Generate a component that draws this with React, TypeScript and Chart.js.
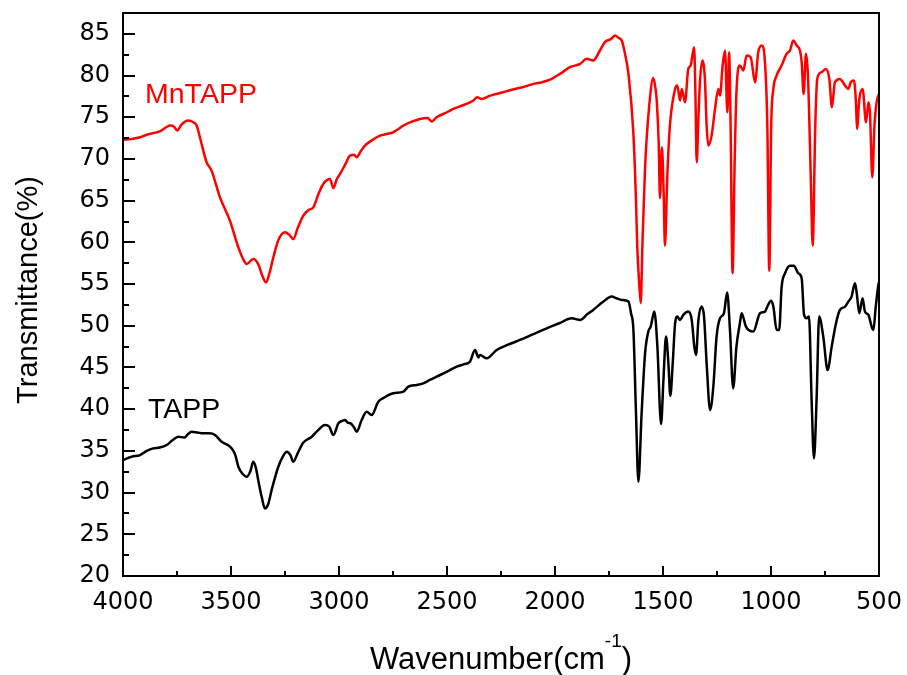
import React, { useEffect, useRef } from 'react';
import { Chart, registerables } from 'chart.js';

Chart.register(...registerables);

// ---- Axis ticks ----
const xTickValues = [4000, 3500, 3000, 2500, 2000, 1500, 1000, 500];
const yTickValues = [20, 25, 30, 35, 40, 45, 50, 55, 60, 65, 70, 75, 80, 85];

// ---- Series names ----
const seriesNames = ['MnTAPP', 'TAPP'];

// ---- MnTAPP (red) ----
const mnWavenumber = [
  4000, 3960, 3920, 3890, 3861, 3830, 3800, 3782, 3765, 3749,
  3730, 3698, 3675, 3659, 3644, 3613, 3590, 3551, 3505, 3466,
  3440, 3427, 3397, 3374, 3355, 3338, 3320, 3304, 3280, 3250,
  3230, 3212, 3190, 3165, 3140, 3119, 3095, 3073, 3042, 3026,
  3010, 2995, 2970, 2949, 2930, 2918, 2900, 2880, 2850, 2810,
  2780, 2749, 2725, 2702, 2660, 2625, 2590, 2571, 2548, 2500,
  2471, 2420, 2378, 2360, 2340, 2300, 2255, 2200, 2150, 2100,
  2060, 2023, 1977, 1931, 1884, 1853, 1823, 1792, 1769, 1740,
  1722, 1705, 1691, 1675, 1660, 1637, 1625, 1619, 1610, 1603,
  1595, 1583, 1563, 1545, 1535, 1529, 1520, 1514, 1505, 1497,
  1491, 1480, 1468, 1444, 1434, 1421, 1413, 1398, 1383, 1372,
  1356, 1350, 1344, 1336, 1329, 1318, 1306, 1298, 1290, 1275,
  1259, 1244, 1236, 1224, 1213, 1202, 1194, 1187, 1178, 1168,
  1160, 1144, 1128, 1113, 1094, 1074, 1059, 1043, 1028, 1017,
  1008, 999, 989, 974, 951, 928, 912, 897, 881, 866,
  858, 849, 838, 829, 816, 807, 795, 786, 766, 746,
  730, 718, 704, 681, 657, 642, 631, 616, 606, 602,
  591, 576, 560, 549, 542, 531, 521, 511, 500,
];
const mnTransmittance = [
  72.3, 72.4, 72.6, 72.9, 73.1, 73.3, 73.8, 74.0, 73.9, 73.4,
  74.1, 74.6, 74.4, 74.0, 72.6, 69.6, 68.6, 65.4, 62.6, 59.4,
  57.8, 57.4, 58.0, 57.4, 56.0, 55.2, 56.5, 58.2, 60.3, 61.2,
  60.9, 60.4, 61.8, 63.2, 63.9, 64.2, 65.8, 67.0, 67.6, 66.5,
  67.6, 68.2, 69.4, 70.4, 70.5, 70.2, 70.9, 71.6, 72.2, 72.8,
  73.0, 73.2, 73.6, 74.0, 74.5, 74.8, 74.9, 74.5, 75.0, 75.6,
  76.0, 76.5, 77.0, 77.4, 77.2, 77.6, 77.9, 78.3, 78.6, 79.0,
  79.2, 79.5, 80.2, 81.0, 81.4, 82.0, 81.8, 83.0, 84.0, 84.4,
  84.8, 84.5, 84.2, 82.5, 80.2, 73.0, 65.0, 59.4, 55.0, 52.7,
  60.0, 69.0, 76.6, 79.7, 78.5, 77.0, 72.0, 65.3, 71.4, 66.0,
  59.6, 68.0, 74.0, 78.4, 78.8, 77.0, 78.4, 76.8, 80.8, 81.2,
  83.4, 78.0, 69.6, 75.0, 79.2, 81.8, 79.6, 74.0, 71.6, 72.8,
  76.0, 78.4, 77.6, 81.2, 83.0, 75.6, 82.8, 74.0, 56.3, 70.0,
  78.0, 81.2, 80.6, 82.4, 82.2, 79.2, 82.8, 83.6, 81.6, 74.0,
  56.6, 74.0, 78.4, 80.0, 81.2, 82.6, 83.0, 84.2, 83.6, 83.0,
  81.6, 77.8, 82.6, 80.0, 68.0, 59.6, 74.0, 79.6, 80.4, 80.8,
  79.6, 76.2, 79.2, 79.6, 78.8, 78.4, 79.2, 79.4, 76.4, 73.6,
  77.2, 78.4, 74.4, 76.8, 75.6, 67.8, 74.0, 76.8, 77.8,
];

// ---- TAPP (black) ----
const tappWavenumber = [
  4000, 3960, 3921, 3890, 3860, 3830, 3798, 3770, 3744, 3715,
  3700, 3682, 3655, 3628, 3600, 3574, 3543, 3515, 3497, 3480,
  3466, 3445, 3427, 3410, 3397, 3385, 3374, 3358, 3343, 3328,
  3312, 3281, 3260, 3242, 3225, 3212, 3190, 3165, 3126, 3100,
  3065, 3045, 3026, 3003, 2985, 2972, 2960, 2946, 2930, 2918,
  2895, 2872, 2849, 2818, 2790, 2749, 2702, 2679, 2640, 2610,
  2580, 2548, 2500, 2455, 2420, 2394, 2370, 2355, 2347, 2316,
  2270, 2220, 2162, 2100, 2038, 1980, 1923, 1884, 1850, 1823,
  1776, 1738, 1715, 1691, 1660, 1648, 1637, 1625, 1614, 1599,
  1583, 1568, 1557, 1540, 1526, 1509, 1498, 1486, 1475, 1466,
  1455, 1444, 1434, 1421, 1406, 1383, 1367, 1355, 1347, 1336,
  1321, 1310, 1298, 1282, 1267, 1252, 1236, 1218, 1203, 1190,
  1175, 1160, 1144, 1136, 1116, 1082, 1051, 1028, 1017, 1000,
  989, 974, 962, 951, 935, 912, 894, 874, 858, 847,
  835, 824, 812, 801, 789, 777, 758, 738, 719, 699,
  681, 657, 642, 627, 611, 603, 591, 576, 565, 549,
  534, 526, 515, 503, 500,
];
const tappTransmittance = [
  33.9, 34.3, 34.5, 35.0, 35.3, 35.4, 35.7, 36.3, 36.7, 36.6,
  37.0, 37.3, 37.2, 37.1, 37.1, 36.9, 36.1, 35.7, 35.3, 34.5,
  33.1, 32.2, 31.9, 32.6, 33.7, 33.0, 31.5, 29.5, 28.1, 28.6,
  30.3, 33.1, 34.3, 34.9, 34.5, 33.7, 34.8, 36.0, 36.7, 37.4,
  38.1, 37.9, 36.9, 38.3, 38.6, 38.7, 38.4, 38.3, 37.8, 37.3,
  38.7, 39.7, 39.3, 40.9, 41.4, 41.9, 42.1, 42.7, 42.9, 43.1,
  43.5, 43.9, 44.5, 45.1, 45.4, 45.7, 47.1, 46.2, 46.5, 46.1,
  47.1, 47.7, 48.3, 49.0, 49.7, 50.3, 50.9, 50.7, 51.4, 51.9,
  52.9, 53.5, 53.3, 53.1, 52.9, 51.5, 49.5, 39.5, 31.3, 39.5,
  46.7, 49.3, 49.9, 51.7, 47.5, 38.2, 43.5, 48.7, 45.5, 41.6,
  45.5, 50.3, 51.1, 50.7, 51.3, 51.7, 50.7, 47.5, 46.5, 50.7,
  52.3, 51.1, 45.5, 39.9, 42.7, 48.7, 50.9, 51.5, 54.0, 49.5,
  42.5, 47.5, 50.3, 51.5, 49.9, 49.3, 51.5, 51.7, 52.3, 53.0,
  52.3, 49.5, 49.5, 54.6, 56.3, 57.2, 57.2, 56.3, 55.7, 51.3,
  50.9, 51.1, 41.1, 34.1, 41.1, 51.1, 48.7, 44.7, 47.5, 50.3,
  51.9, 52.3, 52.9, 53.5, 55.1, 53.9, 51.5, 53.3, 51.7, 51.3,
  49.9, 49.5, 52.3, 54.9, 55.2,
];

const decorPlugin = {
  id: 'decor',
  afterDraw(chart: any) {
    const { ctx, chartArea, scales } = chart;
    const { left, right, top, bottom } = chartArea;
    const xs = scales.x;
    const ys = scales.y;
    ctx.save();
    ctx.strokeStyle = '#000';
    ctx.lineWidth = 2;
    ctx.lineCap = 'butt';
    ctx.beginPath();
    // x ticks (inward)
    xTickValues.forEach((v) => {
      const px = Math.round(xs.getPixelForValue(v));
      ctx.moveTo(px, bottom);
      ctx.lineTo(px, bottom - 10);
    });
    for (let i = 0; i < xTickValues.length - 1; i++) {
      const m = (xTickValues[i] + xTickValues[i + 1]) / 2;
      const px = Math.round(xs.getPixelForValue(m));
      ctx.moveTo(px, bottom);
      ctx.lineTo(px, bottom - 5);
    }
    // y ticks (inward)
    yTickValues.forEach((v) => {
      const py = Math.round(ys.getPixelForValue(v));
      ctx.moveTo(left, py);
      ctx.lineTo(left + 12, py);
    });
    for (let i = 0; i < yTickValues.length - 1; i++) {
      const m = (yTickValues[i] + yTickValues[i + 1]) / 2;
      const py = Math.round(ys.getPixelForValue(m));
      ctx.moveTo(left, py);
      ctx.lineTo(left + 6, py);
    }
    ctx.stroke();
    ctx.strokeRect(left, top, right - left, bottom - top);

    // series labels
    ctx.font = '28.5px "Liberation Sans", Arial, sans-serif';
    ctx.textAlign = 'left';
    ctx.textBaseline = 'alphabetic';
    ctx.fillStyle = '#ff0000';
    ctx.fillText(seriesNames[0], xs.getPixelForValue(3898), ys.getPixelForValue(76.65));
    ctx.fillStyle = '#000000';
    ctx.fillText(seriesNames[1], xs.getPixelForValue(3884), ys.getPixelForValue(38.9));

    // y title
    ctx.save();
    ctx.translate(37, 290);
    ctx.rotate(-Math.PI / 2);
    ctx.textAlign = 'center';
    ctx.font = '29px "Liberation Sans", Arial, sans-serif';
    ctx.fillStyle = '#000';
    ctx.fillText('Transmittance(%)', 0, 0);
    ctx.restore();

    // x title with superscript
    const mainFont = '31px "Liberation Sans", Arial, sans-serif';
    const supFont = '19px "Liberation Sans", Arial, sans-serif';
    const t1 = 'Wavenumber(cm';
    const t2 = '-1';
    const t3 = ')';
    ctx.font = mainFont;
    const w1 = ctx.measureText(t1).width;
    const w3 = ctx.measureText(t3).width;
    ctx.font = supFont;
    const w2 = ctx.measureText(t2).width;
    const total = w1 + w2 + w3;
    let sx = (left + right) / 2 - total / 2;
    ctx.textAlign = 'left';
    ctx.fillStyle = '#000';
    ctx.font = mainFont;
    ctx.fillText(t1, sx, 669);
    sx += w1;
    ctx.font = supFont;
    ctx.fillText(t2, sx, 647);
    sx += w2;
    ctx.font = mainFont;
    ctx.fillText(t3, sx, 669);
    ctx.restore();
  },
};

export default function App() {
  const canvasRef = useRef<HTMLCanvasElement | null>(null);

  useEffect(() => {
    if (!canvasRef.current) return;
    const chart = new Chart(canvasRef.current, {
      type: 'line',
      data: {
        datasets: [
          {
            label: seriesNames[0],
            data: mnWavenumber.map((w, i) => ({ x: w, y: mnTransmittance[i] })),
            borderColor: '#ff0000',
            backgroundColor: '#ff0000',
            borderWidth: 2.5,
            pointRadius: 0,
            cubicInterpolationMode: 'monotone',
            fill: false,
          },
          {
            label: seriesNames[1],
            data: tappWavenumber.map((w, i) => ({ x: w, y: tappTransmittance[i] })),
            borderColor: '#000000',
            backgroundColor: '#000000',
            borderWidth: 2.5,
            pointRadius: 0,
            cubicInterpolationMode: 'monotone',
            fill: false,
          },
        ],
      },
      options: {
        animation: false,
        responsive: false,
        devicePixelRatio: 1,
        layout: { padding: { left: 0, right: 28, top: 13, bottom: 0 } },
        plugins: { legend: { display: false }, tooltip: { enabled: false } },
        elements: { point: { radius: 0 } },
        scales: {
          x: {
            type: 'linear',
            reverse: true,
            min: 500,
            max: 4000,
            grid: { display: false, drawTicks: false },
            border: { display: false },
            afterFit: (s: any) => {
              s.height = 99;
              s.paddingLeft = 0;
              s.paddingRight = 0;
              s.paddingTop = 0;
              s.paddingBottom = 0;
            },
            afterBuildTicks: (s: any) => {
              s.ticks = xTickValues.map((v) => ({ value: v }));
            },
            ticks: {
              autoSkip: false,
              maxRotation: 0,
              padding: 12,
              color: '#000',
              font: { family: '"DejaVu Sans"', size: 24 },
              callback: (v: any) => String(v),
            },
          },
          y: {
            type: 'linear',
            min: 20,
            max: 87.5,
            grid: { display: false, drawTicks: false },
            border: { display: false },
            afterFit: (s: any) => {
              s.width = 123;
              s.paddingLeft = 0;
              s.paddingRight = 0;
              s.paddingTop = 0;
              s.paddingBottom = 0;
            },
            afterBuildTicks: (s: any) => {
              s.ticks = yTickValues.map((v) => ({ value: v }));
            },
            ticks: {
              autoSkip: false,
              padding: 13,
              color: '#000',
              font: { family: '"DejaVu Sans"', size: 24 },
              callback: (v: any) => String(v),
            },
          },
        },
      },
      plugins: [decorPlugin],
    } as any);
    return () => chart.destroy();
  }, []);

  return (
    <div style={{ position: 'absolute', left: 0, top: 0, width: 907, height: 675, background: '#fff' }}>
      <canvas ref={canvasRef} width={907} height={675} style={{ display: 'block', width: 907, height: 675 }} />
    </div>
  );
}
